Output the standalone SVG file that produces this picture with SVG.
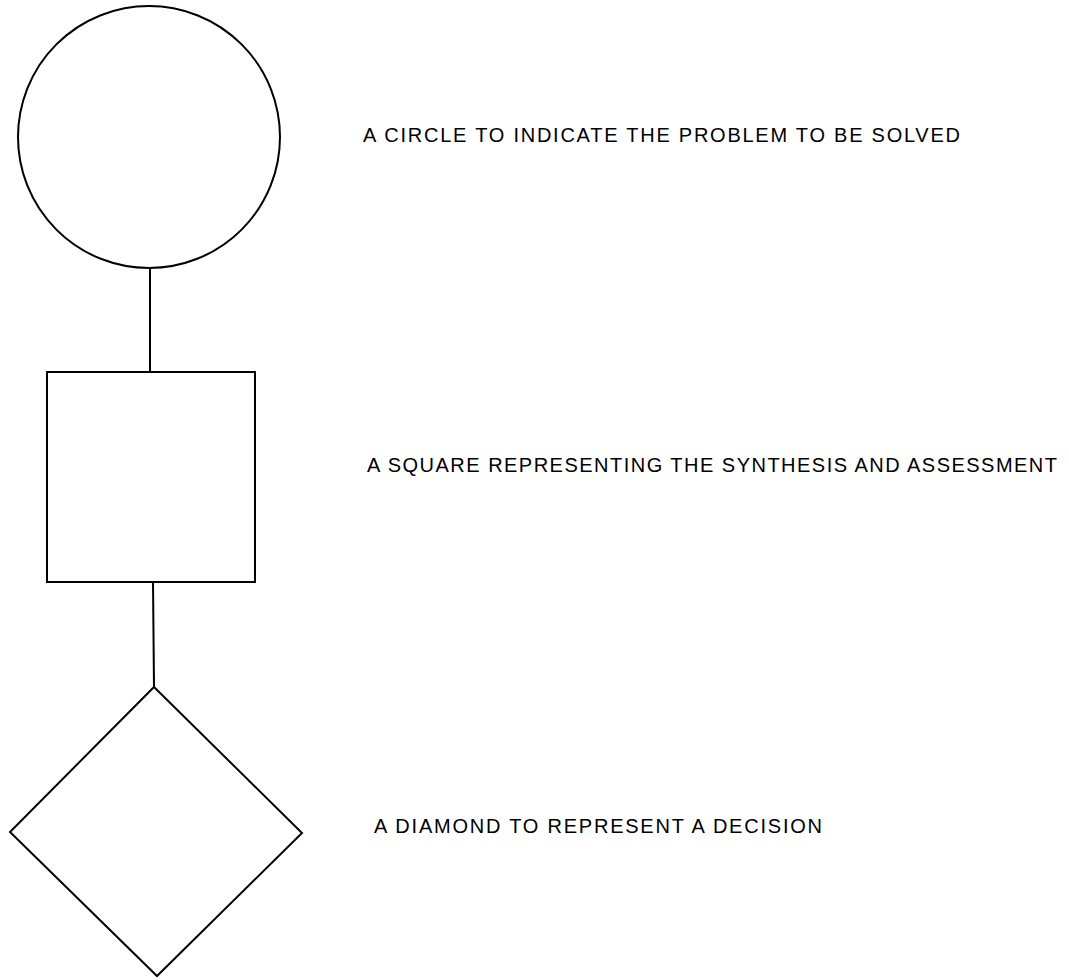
<svg xmlns="http://www.w3.org/2000/svg" width="1069" height="980" viewBox="0 0 1069 980">
<style>
.shape{fill:#fff;stroke:#000;stroke-width:2}
.conn{stroke:#000;stroke-width:2;fill:none}
.lbl{font-family:"Liberation Sans","DejaVu Sans",sans-serif;font-size:20px;fill:#000}
</style>
<rect width="1069" height="980" fill="#fff"/>
<g id="connectors">
<line class="conn" x1="150" y1="268" x2="150" y2="372"/>
<line class="conn" x1="153" y1="582" x2="154" y2="687"/>
</g>
<g id="circle">
<circle class="shape" cx="149" cy="137" r="131"/>
</g>
<g id="square">
<rect class="shape" x="47" y="372" width="208" height="210"/>
</g>
<g id="diamond">
<polygon class="shape" points="154,687 302,833 157,976 10,832"/>
</g>
<g id="labels">
<text class="lbl" x="363" y="142" textLength="597" lengthAdjust="spacing">A CIRCLE TO INDICATE THE PROBLEM TO BE SOLVED</text>
<text class="lbl" x="367" y="472" textLength="690" lengthAdjust="spacing">A SQUARE REPRESENTING THE SYNTHESIS AND ASSESSMENT</text>
<text class="lbl" x="374" y="833" textLength="448" lengthAdjust="spacing">A DIAMOND TO REPRESENT A DECISION</text>
</g>
</svg>
